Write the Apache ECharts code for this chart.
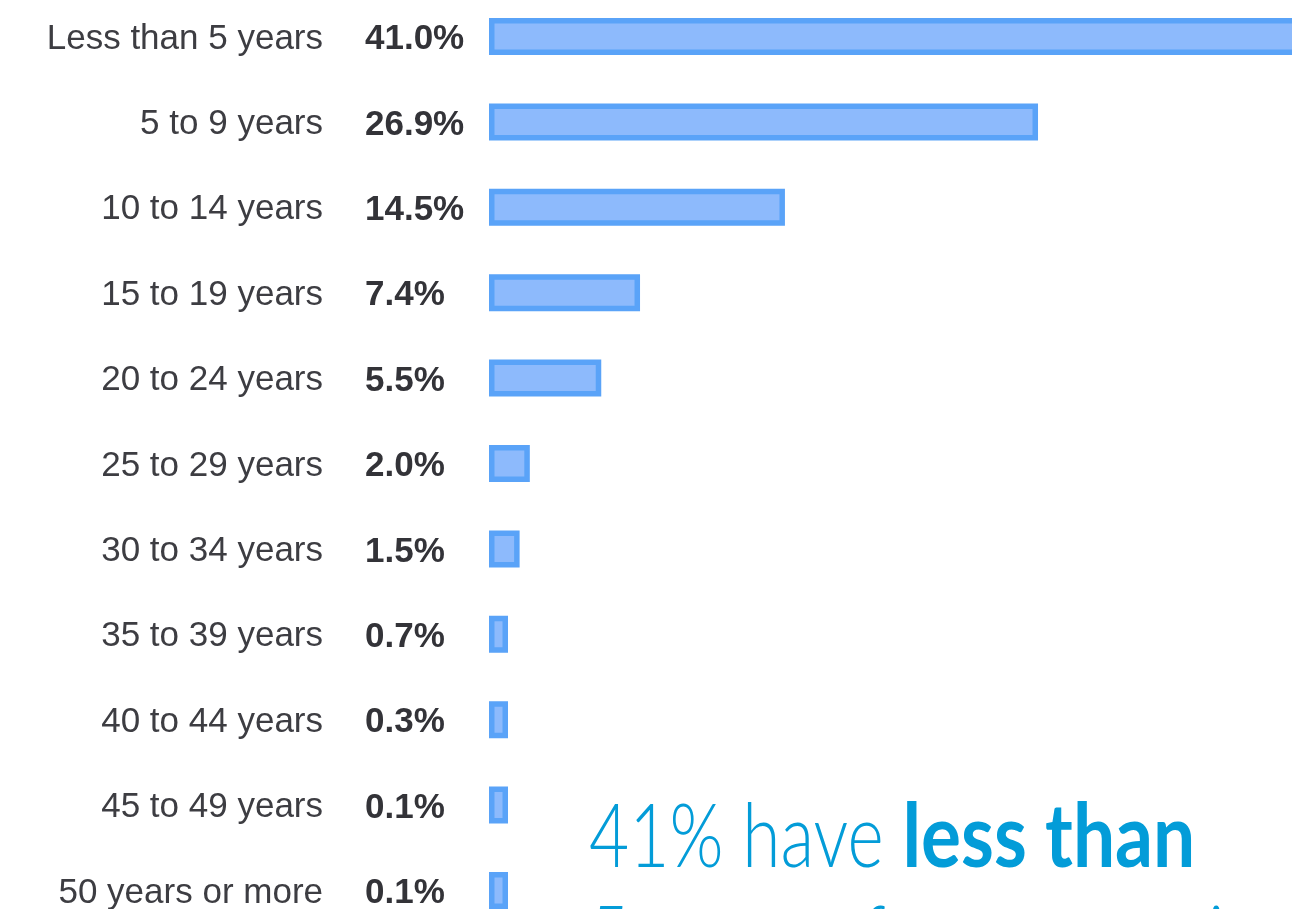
<!DOCTYPE html>
<html>
<head>
<meta charset="utf-8">
<script src="https://cdn.jsdelivr.net/npm/echarts@6/dist/echarts.min.js"></script>
<style>
  html, body { margin: 0; padding: 0; background: #ffffff; }
  #chart { width: 1292px; height: 909px; }
</style>
</head>
<body>
<div id="chart"></div>
<script>
// Years of experience buckets and the share of respondents in each
const categories = [
  'Less than 5 years', '5 to 9 years', '10 to 14 years', '15 to 19 years',
  '20 to 24 years', '25 to 29 years', '30 to 34 years', '35 to 39 years',
  '40 to 44 years', '45 to 49 years', '50 years or more'
];
const shares = [41.0, 26.9, 14.5, 7.4, 5.5, 2.0, 1.5, 0.7, 0.3, 0.1, 0.1];
const axisMax = 41;

// Headline lines, as runs of light / bold text
const headlineLines = [
  [{ text: '41% have ', bold: false }, { text: 'less than', bold: true }],
  [{ text: '5 years of programming experience', bold: false }]
];

const chart = echarts.init(document.getElementById('chart'), null, { renderer: 'canvas' });

const headColor = '#039cd8';
const headFamily = 'Lato, "Open Sans", sans-serif';
const headSize = 88;
const headScale = { light: 0.788, bold: 0.851 };

// Lay out each headline line run by run, with a narrower set for the light face
const measureCtx = document.createElement('canvas').getContext('2d');
function headFont(bold) {
  return (bold ? 'bold ' : '300 ') + headSize + 'px ' + headFamily;
}
function buildHeadline(lines, x0, y0, lineGap) {
  const els = [];
  lines.forEach((runs, li) => {
    let x = x0;
    runs.forEach(run => {
      const sx = run.bold ? headScale.bold : headScale.light;
      measureCtx.font = headFont(run.bold);
      const w = measureCtx.measureText(run.text).width * sx;
      els.push({
        type: 'text',
        x: x,
        y: y0 + li * lineGap,
        scaleX: sx,
        z: 10,
        style: {
          text: run.text,
          fontFamily: headFamily,
          fontWeight: run.bold ? 'bold' : 300,
          fontSize: headSize,
          lineHeight: 100,
          fill: headColor
        }
      });
      x += w;
    });
  });
  return els;
}

chart.setOption({
  animation: false,
  backgroundColor: '#ffffff',
  grid: {
    left: 489,
    top: -6.2,
    width: 836.8,
    height: 939.4,
    outerBoundsMode: 'none',
    containLabel: false
  },
  xAxis: {
    type: 'value',
    min: 0,
    max: axisMax,
    show: false
  },
  yAxis: {
    type: 'category',
    data: categories,
    inverse: true,
    axisLine: { show: false },
    axisTick: { show: false },
    splitLine: { show: false },
    axisLabel: {
      margin: 166,
      color: '#3d3d42',
      fontFamily: '"Liberation Sans", Arial, sans-serif',
      fontSize: 35,
      verticalAlign: 'top',
      lineHeight: 5
    }
  },
  series: [{
    type: 'bar',
    data: shares,
    barWidth: 37,
    barMinHeight: 19,
    itemStyle: {
      color: '#8dbafc',
      borderColor: '#5aa3f8',
      borderWidth: 5.5
    },
    label: {
      show: true,
      position: [-124, '50%'],
      align: 'left',
      verticalAlign: 'middle',
      offset: [0, 3],
      color: '#333338',
      fontFamily: '"Liberation Sans", Arial, sans-serif',
      fontWeight: 'bold',
      fontSize: 35,
      formatter: p => p.value.toFixed(1) + '%'
    }
  }],
  graphic: buildHeadline(headlineLines, 589, 789, 102)
});
</script>
</body>
</html>
